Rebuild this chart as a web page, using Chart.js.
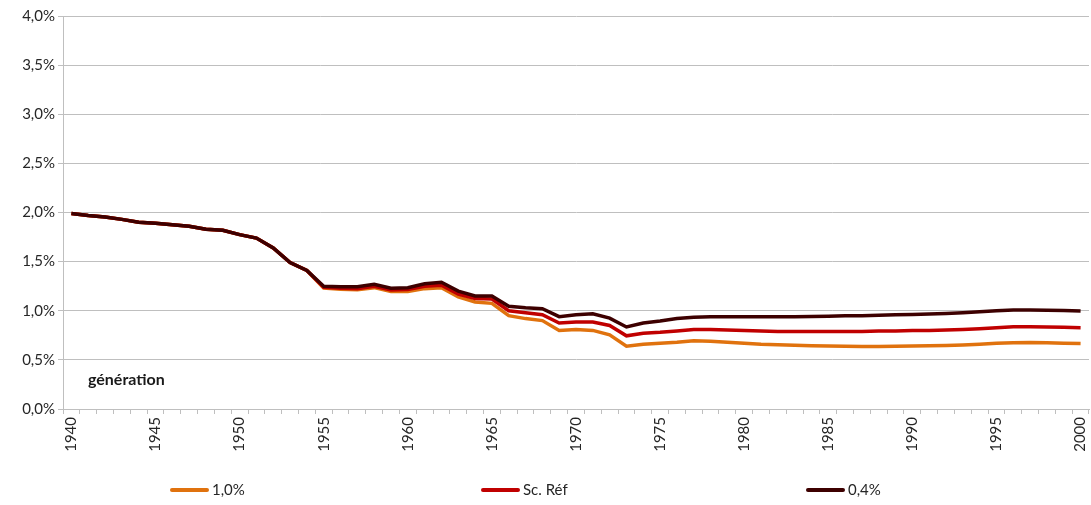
<!DOCTYPE html>
<html>
<head>
<meta charset="utf-8">
<script src="https://cdn.jsdelivr.net/npm/chart.js@4.4.0/dist/chart.umd.min.js"></script>
<style>
  body { margin: 0; background: #fff; }
  #wrap { width: 1091px; height: 505px; }
</style>
</head>
<body>
<div id="wrap"><canvas id="myChart"></canvas></div>
<script>
// années 1940 -> 2000
let years = [];
for (let y = 1940; y <= 2000; y++) years.push(String(y));

const seriesNames = ['1,0%', 'Sc. Réf', '0,4%'];

// taux 1,0%
const values10 = [
    1.99, 1.97, 1.955, 1.93, 1.90, 1.89, 1.875, 1.86, 1.83, 1.82,
    1.775, 1.74, 1.64, 1.49, 1.41, 1.23, 1.22, 1.215, 1.235, 1.195,
    1.195, 1.225, 1.235, 1.14, 1.09, 1.075, 0.95, 0.92, 0.90, 0.80,
    0.81, 0.80, 0.755, 0.64, 0.66, 0.67, 0.68, 0.695, 0.69, 0.68,
    0.67, 0.66, 0.655, 0.648, 0.643, 0.64, 0.638, 0.637, 0.637, 0.638,
    0.64, 0.643, 0.647, 0.652, 0.66, 0.668, 0.675, 0.677, 0.674, 0.67,
    0.667
];
// scénario de référence
const valuesRef = [
    1.99, 1.97, 1.955, 1.93, 1.90, 1.89, 1.875, 1.86, 1.83, 1.82,
    1.775, 1.74, 1.64, 1.49, 1.41, 1.24, 1.23, 1.225, 1.25, 1.21,
    1.215, 1.25, 1.26, 1.17, 1.125, 1.12, 1.00, 0.98, 0.96, 0.875,
    0.885, 0.885, 0.85, 0.745, 0.77, 0.78, 0.795, 0.81, 0.81, 0.805,
    0.80, 0.795, 0.79, 0.788, 0.788, 0.788, 0.79, 0.79, 0.793, 0.795,
    0.798, 0.80, 0.805, 0.81, 0.818, 0.828, 0.838, 0.838, 0.835, 0.832,
    0.828
];
// taux 0,4%
const values04 = [
    1.99, 1.97, 1.955, 1.93, 1.90, 1.89, 1.875, 1.86, 1.83, 1.82,
    1.775, 1.74, 1.64, 1.49, 1.41, 1.25, 1.245, 1.245, 1.27, 1.23,
    1.235, 1.275, 1.29, 1.20, 1.15, 1.15, 1.045, 1.03, 1.02, 0.94,
    0.96, 0.97, 0.925, 0.835, 0.875, 0.895, 0.92, 0.935, 0.94, 0.94,
    0.94, 0.94, 0.94, 0.94, 0.942, 0.945, 0.948, 0.95, 0.955, 0.96,
    0.963, 0.967, 0.972, 0.98, 0.99, 1.0, 1.008, 1.008, 1.005, 1.002,
    0.998
];

const yTicks = [0, 0.5, 1, 1.5, 2, 2.5, 3, 3.5, 4];

const colors = ['#E0720E', '#C00000', '#3D0000'];
const gridColor = '#BFBFBF';
const textColor = '#262626';
const fontFamily = 'Lato, "Open Sans", sans-serif';

// legend spread over the bottom (left edge of each item)
const legendX = [172, 483, 808];

const extrasPlugin = {
    id: 'extras',
    afterDraw(chart) {
        const ctx = chart.ctx;
        const area = chart.chartArea;
        ctx.save();
        ctx.font = 'bold 16px ' + fontFamily;
        ctx.fillStyle = '#1a1a1a';
        ctx.textBaseline = 'middle';
        ctx.fillText('génération', area.left + 25, area.bottom - 29);

        // légende
        ctx.font = '15px ' + fontFamily;
        ctx.fillStyle = textColor;
        const ly = chart.height - 15;
        chart.data.datasets.forEach((ds, i) => {
            const x = legendX[i];
            ctx.strokeStyle = ds.borderColor;
            ctx.lineWidth = 4;
            ctx.lineCap = 'round';
            ctx.beginPath();
            ctx.moveTo(x, ly);
            ctx.lineTo(x + 35, ly);
            ctx.stroke();
            ctx.fillText(ds.label, x + 40, ly);
        });
        ctx.restore();
    }
};

const ctx = document.getElementById('myChart').getContext('2d');

const data = {
    labels: years,
    datasets: [
        { label: seriesNames[0], data: values10, borderColor: colors[0], backgroundColor: colors[0], order: 3 },
        { label: seriesNames[1], data: valuesRef, borderColor: colors[1], backgroundColor: colors[1], order: 2 },
        { label: seriesNames[2], data: values04, borderColor: colors[2], backgroundColor: colors[2], order: 1 }
    ]
};
data.datasets.forEach(ds => {
    ds.borderWidth = 3.5;
    ds.pointRadius = 0;
    ds.tension = 0;
    ds.fill = false;
});

const myChart = new Chart(ctx, {
    type: 'line',
    data: data,
    plugins: [extrasPlugin],
    options: {
        responsive: true,
        maintainAspectRatio: false,
        animation: false,
        layout: { padding: { top: 16, right: 2, left: 0, bottom: 34 } },
        plugins: {
            tooltip: { enabled: false },
            legend: { display: false }
        },
        scales: {
            x: {
                offset: true,
                grid: {
                    offset: true,
                    drawOnChartArea: false,
                    drawTicks: true,
                    tickLength: 5,
                    color: gridColor
                },
                border: { color: gridColor },
                ticks: {
                    autoSkip: false,
                    minRotation: 90,
                    maxRotation: 90,
                    color: textColor,
                    font: { family: fontFamily, size: 15 },
                    callback: function (val, i) {
                        const y = parseInt(years[i]);
                        return y % 5 === 0 ? years[i] : '';
                    }
                },
                afterFit: function (scale) {
                    scale.height = 62;
                    scale.paddingLeft = 0;
                    scale.paddingRight = 0;
                }
            },
            y: {
                min: 0,
                max: 4,
                afterBuildTicks: function (scale) {
                    scale.ticks = yTicks.map(v => ({ value: v }));
                },
                grid: { color: gridColor, tickLength: 5 },
                border: { color: gridColor },
                ticks: {
                    color: textColor,
                    font: { family: fontFamily, size: 15 },
                    padding: 3,
                    callback: v => v.toFixed(1).replace('.', ',') + '%'
                },
                afterFit: function (scale) { scale.width = 63; }
            }
        }
    }
});
</script>
</body>
</html>
